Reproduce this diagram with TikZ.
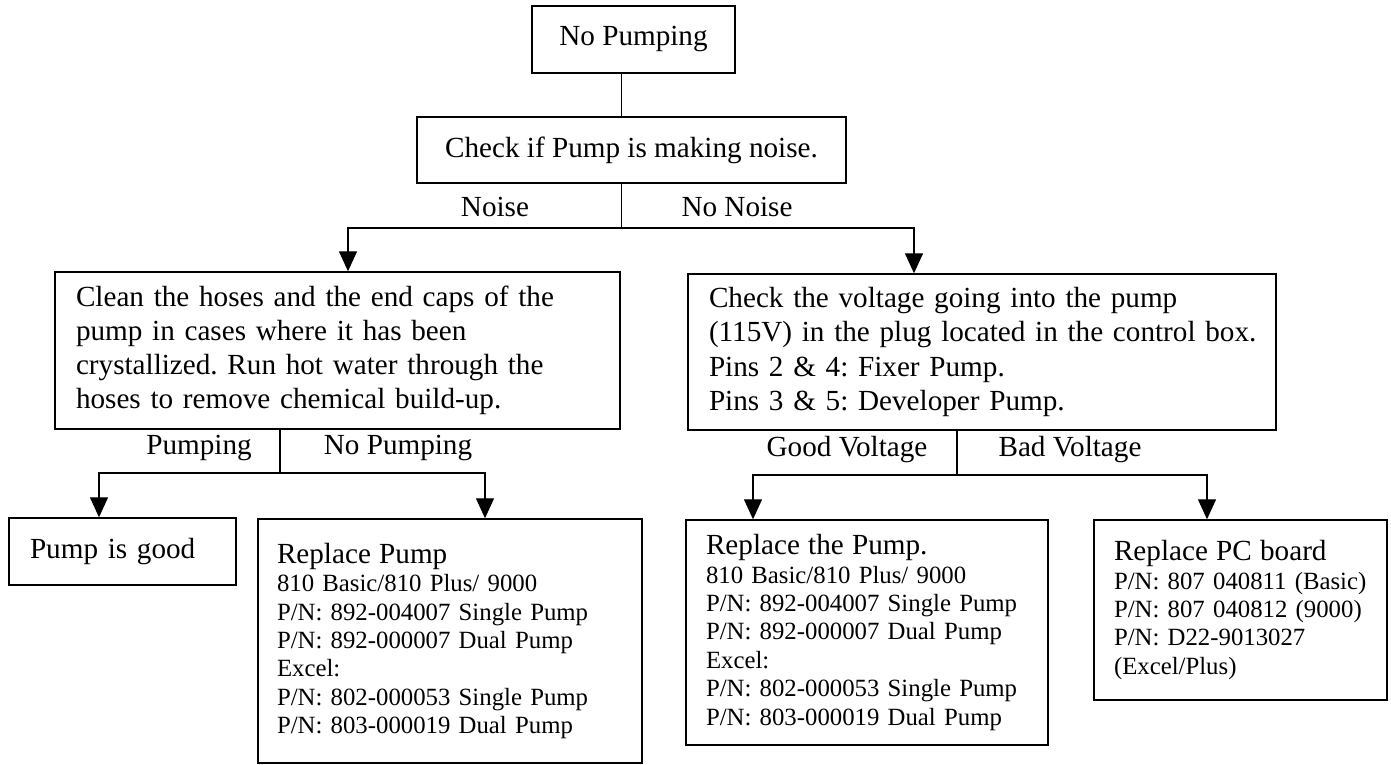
\documentclass[tikz,border=0pt]{standalone}
\usepackage{fontspec}
\setmainfont{Liberation Serif}
\usepackage{tikz}
\usetikzlibrary{arrows.meta}
\newcommand{\boxfont}{\fontsize{16.6pt}{19.4pt}\selectfont}
\newcommand{\partfont}{\fontsize{14.1pt}{16.2pt}\selectfont}
\frenchspacing

\begin{document}
\begin{tikzpicture}[every node/.style={font=\boxfont},
  stepbox/.style={draw, thick, rectangle, inner ysep=0.1cm, inner xsep=0.42cm, align=left},
  branch/.style={inner sep=0pt, anchor=base},
  link/.style={thick},
  arrowlink/.style={thick, -{Triangle[length=0.4cm,width=0.36cm]}}]
  \useasboundingbox (0,0) rectangle (27.82,15.30);

  \node[stepbox, align=center, minimum width=4.06cm, minimum height=1.34cm] (nopump) at (12.67,14.51) {No Pumping};
  \node[stepbox, align=center, minimum width=8.58cm, minimum height=1.32cm] (check) at (12.63,12.30) {Check if Pump is making noise.};

  \node[stepbox, text width=10.46cm, minimum width=11.30cm, minimum height=3.14cm] (clean) at (6.75,8.29)
  {Clean the hoses and the end caps of the\\
   pump in cases where it has been\\
   crystallized. Run hot water through the\\
   hoses to remove chemical build-up.};
  \node[stepbox, text width=10.92cm, minimum width=11.76cm, minimum height=3.12cm] (volt) at (19.64,8.26)
  {Check the voltage going into the pump\\
   \mbox{(115V) in the plug located in the control box.}\\
   Pins 2 \& 4: Fixer Pump.\\
   Pins 3 \& 5: Developer Pump.};

  \node[stepbox, text width=3.70cm, minimum width=4.54cm, minimum height=1.34cm] (good) at (2.45,4.27) {Pump is good};
  \node[stepbox, font=\partfont, inner xsep=0.38cm, text width=6.92cm, minimum width=7.68cm, minimum height=4.88cm] (repl) at (9.00,2.48)
  {{\boxfont Replace Pump}\\
   810 Basic/810 Plus/ 9000\\
   P/N: 892-004007 Single Pump\\
   P/N: 892-000007 Dual Pump\\
   Excel:\\
   P/N: 802-000053 Single Pump\\
   P/N: 803-000019 Dual Pump};
  \node[stepbox, font=\partfont, inner xsep=0.4cm, text width=6.44cm, minimum width=7.24cm, minimum height=4.50cm] (replthe) at (17.34,2.65)
  {{\boxfont Replace the Pump.}\\
   810 Basic/810 Plus/ 9000\\
   P/N: 892-004007 Single Pump\\
   P/N: 892-000007 Dual Pump\\
   Excel:\\
   P/N: 802-000053 Single Pump\\
   P/N: 803-000019 Dual Pump};
  \node[stepbox, font=\partfont, inner xsep=0.4cm, text width=5.06cm, minimum width=5.86cm, minimum height=3.60cm] (pcb) at (24.81,3.10)
  {{\boxfont Replace PC board}\\
   \mbox{P/N: 807 040811 (Basic)}\\
   P/N: 807 040812 (9000)\\
   P/N: D22-9013027\\
   (Excel/Plus)};

  % branch labels
  \node[branch] (noise) at (9.90,10.96) {Noise};
  \node[branch] (nonoise) at (14.74,10.96) {No Noise};
  \node[branch] (pumping) at (3.98,6.20) {Pumping};
  \node[branch] (nopumping) at (7.96,6.20) {No Pumping};
  \node[branch] (goodv) at (16.94,6.16) {Good Voltage};
  \node[branch] (badv) at (21.40,6.16) {Bad Voltage};

  % connectors
  \coordinate (fork1) at (12.43,10.74);
  \draw[link] (nopump.south -| fork1) -- (check.north -| fork1);
  \draw[link] (check.south -| fork1) -- (fork1);
  \draw[arrowlink] (fork1) -| ([xshift=0.21cm]clean.north);
  \draw[arrowlink] (fork1) -| ([xshift=-1.36cm]volt.north);

  \coordinate (fork2) at (5.60,5.84);
  \draw[link] (clean.south -| fork2) -- (fork2);
  \draw[arrowlink] (fork2) -| ([xshift=-0.47cm]good.north);
  \draw[arrowlink] (fork2) -| ([xshift=0.70cm]repl.north);

  \coordinate (fork3) at (19.14,5.80);
  \draw[link] (volt.south -| fork3) -- (fork3);
  \draw[arrowlink] (fork3) -| ([xshift=-2.28cm]replthe.north);
  \draw[arrowlink] (fork3) -| ([xshift=-0.67cm]pcb.north);
\end{tikzpicture}
\end{document}
